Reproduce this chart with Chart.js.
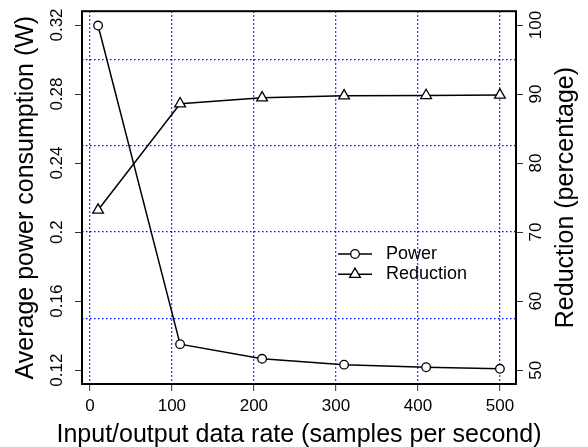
<!DOCTYPE html>
<html><head><meta charset="utf-8">
<script src="https://cdn.jsdelivr.net/npm/chart.js@4/dist/chart.umd.min.js"></script>
<style>html,body{margin:0;padding:0;background:#fff;} canvas{display:block;}</style>
</head><body>
<canvas id="c" width="588" height="447"></canvas>
<script>
// ---- data ----
const rates = [10, 110, 210, 310, 410, 500];
const power = [0.3197, 0.1351, 0.1266, 0.1232, 0.1217, 0.1208];
const reduction = [73.2, 88.6, 89.45, 89.75, 89.8, 89.85];
const xTicks = [0, 100, 200, 300, 400, 500];
const powerTicks = [0.12, 0.16, 0.20, 0.24, 0.28, 0.32];
const powerTickLabels = ['0.12', '0.16', '0.2', '0.24', '0.28', '0.32'];
const reductionTicks = [50, 60, 70, 80, 90, 100];
const reductionTickLabels = ['50', '60', '70', '80', '90', '100'];
const gridLevels = [0.15, 0.20, 0.25, 0.30];
const seriesNames = ['Power', 'Reduction'];
const xTitle = 'Input/output data rate (samples per second)';
const yTitle = 'Average power consumption (W)';
const y2Title = 'Reduction (percentage)';

const FONT = '"Liberation Sans", Arial, Helvetica, sans-serif';
Chart.defaults.font.family = FONT;
Chart.defaults.color = '#000';

const tickCol = '#333';
const gridBlue = '#0000ff';
const gridDash = [1.5, 2.5];

function setTicks(vals) { return s => { s.ticks = vals.map(v => ({ value: v })); }; }

function drawTitle(ctx, text, x, y, rot) {
  ctx.save();
  ctx.fillStyle = '#000';
  ctx.font = '25px ' + FONT;
  ctx.translate(x, y);
  ctx.rotate(rot);
  ctx.textAlign = 'center';
  ctx.textBaseline = 'alphabetic';
  ctx.fillText(text, 0, 0);
  ctx.restore();
}

const extras = {
  id: 'extras',
  afterDraw(chart) {
    const { ctx, chartArea: a } = chart;
    ctx.save();
    ctx.strokeStyle = '#000';
    ctx.lineWidth = 2;
    ctx.strokeRect(a.left, a.top, a.right - a.left, a.bottom - a.top);
    ctx.restore();

    const midY = (a.top + a.bottom) / 2;
    drawTitle(ctx, xTitle, (a.left + a.right) / 2, 442, 0);
    drawTitle(ctx, yTitle, 33, midY, -Math.PI / 2);
    drawTitle(ctx, y2Title, 573, midY, -Math.PI / 2);

    // legend
    const rows = [254, 274.3];
    chart.data.datasets.forEach((ds, i) => {
      const y = rows[i];
      ctx.save();
      ctx.strokeStyle = '#000';
      ctx.lineWidth = 1.5;
      ctx.beginPath(); ctx.moveTo(338, y); ctx.lineTo(372, y); ctx.stroke();
      const cx = 355, r = ds.pointRadius;
      ctx.fillStyle = '#fff';
      ctx.lineWidth = 1.3;
      ctx.beginPath();
      if (ds.pointStyle === 'triangle') {
        let rad = 0;
        ctx.moveTo(cx + Math.sin(rad) * r, y - Math.cos(rad) * r);
        rad += 2 * Math.PI / 3; ctx.lineTo(cx + Math.sin(rad) * r, y - Math.cos(rad) * r);
        rad += 2 * Math.PI / 3; ctx.lineTo(cx + Math.sin(rad) * r, y - Math.cos(rad) * r);
        ctx.closePath();
      } else {
        ctx.arc(cx, y, r, 0, Math.PI * 2);
      }
      ctx.fill(); ctx.stroke();
      ctx.fillStyle = '#000';
      ctx.font = '18px ' + FONT;
      ctx.textAlign = 'left';
      ctx.textBaseline = 'middle';
      ctx.fillText(ds.label, 386, y);
      ctx.restore();
    });
  }
};

new Chart(document.getElementById('c'), {
  type: 'line',
  data: {
    datasets: [
      {
        label: seriesNames[0],
        data: rates.map((x, i) => ({ x, y: power[i] })),
        yAxisID: 'y',
        borderColor: '#000', borderWidth: 1.5, tension: 0,
        pointStyle: 'circle', pointRadius: 4.3, pointBorderWidth: 1.3,
        pointBorderColor: '#000', pointBackgroundColor: '#fff'
      },
      {
        label: seriesNames[1],
        data: rates.map((x, i) => ({ x, y: reduction[i] })),
        yAxisID: 'y2',
        borderColor: '#000', borderWidth: 1.5, tension: 0,
        pointStyle: 'triangle', pointRadius: 6.2, pointBorderWidth: 1.3,
        pointBorderColor: '#000', pointBackgroundColor: '#fff'
      }
    ]
  },
  options: {
    responsive: false,
    animation: false,
    devicePixelRatio: 1,
    layout: { padding: { top: 11, left: 0, right: 0, bottom: 0 } },
    plugins: { legend: { display: false }, tooltip: { enabled: false } },
    scales: {
      x: {
        type: 'linear', position: 'bottom', min: -9.6, max: 519.6,
        afterBuildTicks: setTicks(xTicks),
        afterFit: s => { s.height = 63; },
        ticks: { font: { size: 17 }, padding: 5, maxRotation: 0, autoSkip: false, color: '#000',
                 callback: v => String(v) },
        grid: { color: gridBlue, lineWidth: 1.3, tickLength: 7, tickColor: tickCol, tickWidth: 1 },
        border: { display: false, dash: gridDash }
      },
      y: {
        type: 'linear', position: 'left', weight: 1, min: 0.112, max: 0.328,
        afterBuildTicks: setTicks(powerTicks),
        afterFit: s => { s.width = 82; },
        ticks: { font: { size: 17 }, minRotation: 90, maxRotation: 90, crossAlign: 'center',
                 padding: 1, autoSkip: false, color: '#000',
                 callback: (v, i) => powerTickLabels[i] },
        grid: { drawOnChartArea: false, tickLength: 7, tickColor: tickCol, tickWidth: 1 },
        border: { display: false }
      },
      yGrid: {
        type: 'linear', position: 'left', weight: 0, min: 0.112, max: 0.328,
        afterBuildTicks: setTicks(gridLevels),
        afterFit: s => { s.width = 0; },
        ticks: { display: false },
        grid: { color: gridBlue, lineWidth: 1.3, drawTicks: false },
        border: { display: false, dash: gridDash }
      },
      y2: {
        type: 'linear', position: 'right', min: 48, max: 102,
        afterBuildTicks: setTicks(reductionTicks),
        afterFit: s => { s.width = 72; },
        ticks: { font: { size: 17 }, minRotation: 90, maxRotation: 90, crossAlign: 'center',
                 padding: -1, autoSkip: false, color: '#000',
                 callback: (v, i) => reductionTickLabels[i] },
        grid: { drawOnChartArea: false, tickLength: 7, tickColor: tickCol, tickWidth: 1 },
        border: { display: false }
      }
    }
  },
  plugins: [extras]
});
</script>
</body></html>
